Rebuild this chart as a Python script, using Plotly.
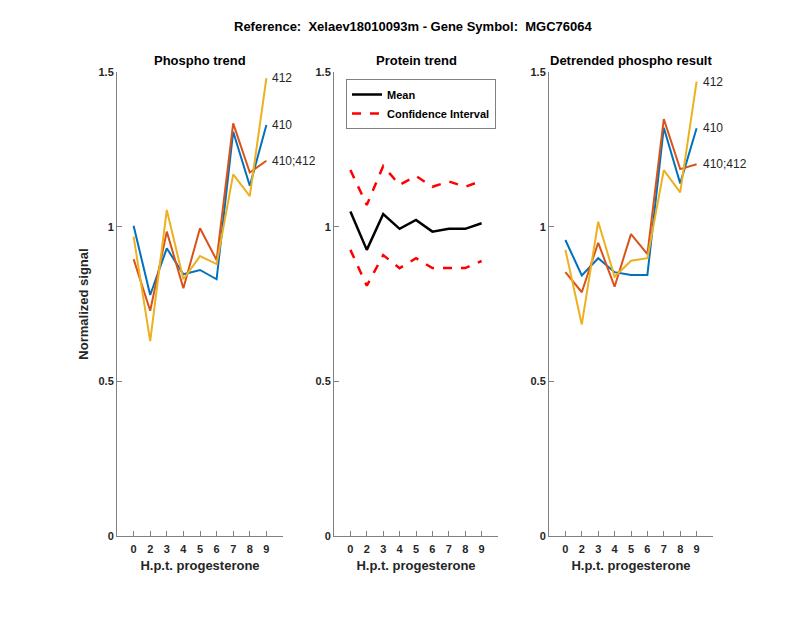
import plotly.graph_objects as go

time_labels = ["0", "2", "3", "4", "5", "6", "7", "8", "9"]

phospho_410 = [1.003, 0.779, 0.930, 0.846, 0.860, 0.830, 1.307, 1.132, 1.329]
phospho_410_412 = [0.895, 0.728, 0.984, 0.801, 0.995, 0.892, 1.334, 1.175, 1.213]
phospho_412 = [0.968, 0.630, 1.054, 0.830, 0.905, 0.879, 1.169, 1.099, 1.480]

protein_mean = [1.049, 0.925, 1.041, 0.993, 1.022, 0.984, 0.993, 0.993, 1.011]
protein_ci_upper = [1.183, 1.070, 1.196, 1.135, 1.164, 1.129, 1.146, 1.129, 1.148]
protein_ci_lower = [0.925, 0.809, 0.908, 0.866, 0.898, 0.866, 0.866, 0.866, 0.889]

detr_410 = [0.957, 0.842, 0.898, 0.853, 0.844, 0.844, 1.320, 1.140, 1.318]
detr_410_412 = [0.853, 0.788, 0.948, 0.806, 0.976, 0.911, 1.348, 1.186, 1.202]
detr_412 = [0.925, 0.684, 1.016, 0.838, 0.890, 0.898, 1.183, 1.111, 1.469]

series_names = ["410", "410;412", "412"]
colors = ["#0072BD", "#D95319", "#EDB120"]

xpos = list(range(1, len(time_labels) + 1))
FONT = "Liberation Sans, Arial, sans-serif"
W, H = 800, 618

fig = go.Figure()

def add_lines(vals_list, xa, ya):
    for name, vals, c in zip(series_names, vals_list, colors):
        fig.add_trace(go.Scatter(x=xpos, y=vals, mode="lines", line=dict(color=c, width=2),
                                 xaxis=xa, yaxis=ya, showlegend=False, name=name))
        fig.add_annotation(x=xpos[-1], y=vals[-1], xref=xa, yref=ya, text=name,
                           showarrow=False, xanchor="left", xshift=4,
                           font=dict(family=FONT, size=12, color="#262626"))

add_lines([phospho_410, phospho_410_412, phospho_412], "x", "y")
add_lines([detr_410, detr_410_412, detr_412], "x3", "y3")

fig.add_trace(go.Scatter(x=xpos, y=protein_mean, mode="lines", name="Mean",
                         line=dict(color="black", width=2.5), xaxis="x2", yaxis="y2"))
fig.add_trace(go.Scatter(x=xpos, y=protein_ci_upper, mode="lines", name="Confidence Interval",
                         line=dict(color="red", width=2.5, dash="dash"), xaxis="x2", yaxis="y2",
                         legendgroup="ci"))
fig.add_trace(go.Scatter(x=xpos, y=protein_ci_lower, mode="lines", name="Confidence Interval",
                         line=dict(color="red", width=2.5, dash="dash"), xaxis="x2", yaxis="y2",
                         legendgroup="ci", showlegend=False))

domains = [(117, 283), (334, 498), (549, 713)]
ydom = [(H - 536) / H, (H - 72) / H]
titles = ["Phospho trend", "Protein trend", "Detrended phospho result"]

axis_common = dict(showline=True, linecolor="#808080", linewidth=1, ticks="inside",
                   ticklen=5, tickcolor="#808080", showgrid=False, zeroline=False,
                   automargin=False,
                   tickfont=dict(family=FONT, size=11, color="#262626", weight="bold"))

layout = dict(width=W, height=H, margin=dict(l=0, r=0, t=0, b=0),
              plot_bgcolor="white", paper_bgcolor="white",
              font=dict(family=FONT, color="#262626"),
              legend=dict(x=346 / W, y=(H - 79) / H, xanchor="left", yanchor="top",
                          bordercolor="#808080", borderwidth=1, bgcolor="white",
                          font=dict(family=FONT, size=11, color="black", weight="bold"),
                          tracegroupgap=0, itemwidth=30))

for i, (d, t) in enumerate(zip(domains, titles)):
    sfx = "" if i == 0 else str(i + 1)
    layout["xaxis" + sfx] = dict(domain=[d[0] / W, d[1] / W], range=[0, 10], tickvals=xpos,
                                 ticktext=time_labels, anchor="y" + sfx, ticklabelstandoff=3,
                                 title=dict(text="H.p.t. progesterone", standoff=6,
                                            font=dict(family=FONT, size=13, color="#262626", weight="bold")),
                                 **axis_common)
    ya = dict(domain=ydom, range=[0, 1.5], tickvals=[0, 0.5, 1, 1.5],
              ticktext=["0", "0.5", "1", "1.5"], anchor="x" + sfx, **axis_common)
    if i == 0:
        ya["title"] = dict(text="Normalized signal", standoff=6,
                           font=dict(family=FONT, size=13, color="#262626", weight="bold"))
    layout["yaxis" + sfx] = ya
    fig.add_annotation(x=(d[0] + d[1]) / 2 / W, y=(H - 61) / H, xref="paper", yref="paper",
                       text="<b>" + t + "</b>", showarrow=False, xanchor="center", yanchor="middle",
                       font=dict(family=FONT, size=13, color="black"))

fig.add_annotation(x=413 / W, y=(H - 26) / H, xref="paper", yref="paper",
                   text="<b>Reference:  Xelaev18010093m - Gene Symbol:  MGC76064</b>",
                   showarrow=False, xanchor="center", yanchor="middle",
                   font=dict(family=FONT, size=13, color="black"))

fig.update_layout(**layout)
fig.write_html("out.html", config={"displayModeBar": False},
               post_script="document.body.style.margin='0';document.body.style.overflow='hidden';")
